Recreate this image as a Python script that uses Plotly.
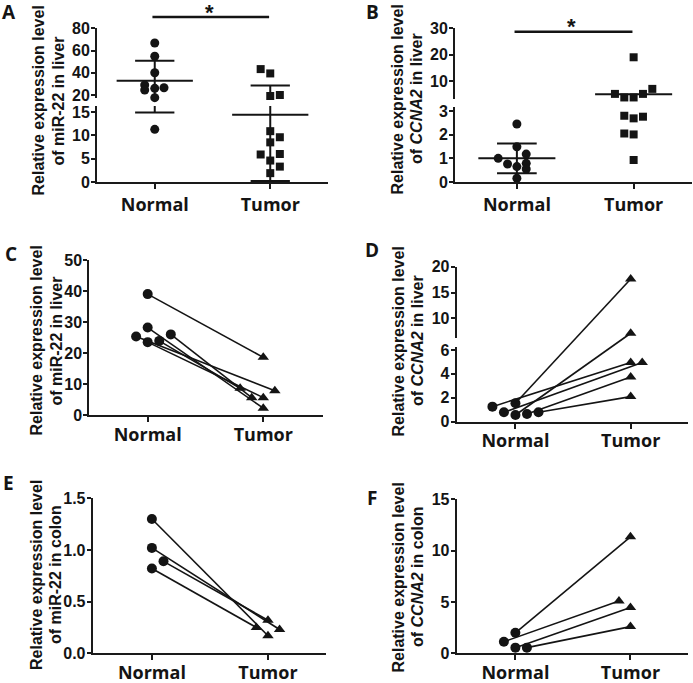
import plotly.graph_objects as go

W, H = 693, 683

categories = ["Normal", "Tumor"]

# ---------------- data ----------------
# Panel A: miR-22 in liver (scatter, broken y axis)
a_normal = [66.8, 54.9, 40.0, 29.0, 24.5, 26.0, 26.5, 17.6, 11.3]
a_tumor = [43.3, 39.4, 19.1, 20.0, 10.9, 9.6, 8.5, 5.9, 6.0, 4.6, 3.3, 1.9]
a_mean = [32.8, 14.4]
a_sd = [17.9, 14.2]
a_lower_ticks = [0, 5, 10, 15]
a_upper_ticks = [20, 40, 60, 80]

# Panel B: CCNA2 in liver (scatter, broken y axis)
b_normal = [2.45, 1.49, 1.18, 1.0, 0.76, 0.65, 0.79, 0.55, 0.16]
b_tumor = [19.0, 5.1, 3.75, 3.75, 5.1, 7.0, 2.8, 2.69, 2.76, 2.05, 2.01, 0.93]
b_mean = [1.0, 5.0]
b_sd = [0.63, None]
b_lower_ticks = [0, 1, 2, 3]
b_upper_ticks = [10, 20, 30]

# Panel C: miR-22 in liver, paired
c_normal = [39.0, 28.2, 25.3, 23.5, 23.9, 26.0]
c_tumor = [18.6, 2.2, 7.8, 5.6, 8.6, 5.6]
c_ticks = [0, 10, 20, 30, 40, 50]

# Panel D: CCNA2 in liver, paired (broken y axis)
d_normal = [1.26, 0.79, 1.55, 0.56, 0.65, 0.79]
d_tumor = [4.96, 4.96, 17.6, 7.1, 3.73, 2.1]
d_lower_ticks = [0, 2, 4, 6]
d_upper_ticks = [10, 15, 20]

# Panel E: miR-22 in colon, paired
e_normal = [1.30, 1.02, 0.89, 0.82]
e_tumor = [0.17, 0.23, 0.32, 0.25]
e_ticks = [0.0, 0.5, 1.0, 1.5]

# Panel F: CCNA2 in colon, paired
f_normal = [2.0, 1.13, 0.55, 0.55]
f_tumor = [11.35, 5.1, 4.45, 2.6]
f_ticks = [0, 5, 10, 15]

# horizontal jitter of the points (style)
a_normal_jit = [0, 0, 0, -0.087, -0.087, 0, 0.08, 0, 0]
a_tumor_jit = [-0.083, 0, 0, 0.083, 0, 0.083, 0, -0.083, 0.083, 0, 0.083, 0]
b_normal_jit = [0, 0, 0.08, -0.16, -0.08, 0, 0.08, 0.08, 0]
b_tumor_jit = [0, -0.16, -0.08, 0, 0.08, 0.16, -0.08, 0, 0.08, -0.08, 0, 0]
c_normal_jit = [0, 0, -0.1, 0, 0.1, 0.2]
c_tumor_jit = [0, 0, 0.1, 0, -0.2, -0.1]
d_normal_jit = [-0.2, -0.1, 0, 0, 0.1, 0.2]
d_tumor_jit = [0, 0.1, 0, 0, 0, 0]
e_normal_jit = [0, 0, 0.1, 0]
e_tumor_jit = [0, 0.1, 0, -0.1]
f_normal_jit = [0, -0.1, 0, 0.1]
f_tumor_jit = [0, -0.1, 0, 0]

# ---------------- style ----------------
INK = "#141414"
AX = "#1a1a1a"
TICK_FONT = dict(family="Liberation Sans", size=16, color=INK, weight="bold")
CAT_FONT = dict(family="Open Sans", size=18, color=INK, weight="bold")
TITLE_FONT = dict(family="Liberation Sans", size=16, color=INK, weight="bold")
LETTER_FONT = dict(family="Open Sans", size=19, color=INK, weight="bold")

MEAN_HW = 0.33
SD_HW = 0.17


def dx(p0, p1):
    return [p0 / W, p1 / W]


def dy(top, bottom):
    return [1 - bottom / H, 1 - top / H]


def yax(domain, rng, ticks, anchor, fmt=None):
    d = dict(domain=domain, range=rng, tickvals=ticks, anchor=anchor, showline=True,
             linecolor=AX, linewidth=2, ticks="outside", ticklen=4, tickwidth=2,
             tickcolor=AX, showgrid=False, zeroline=False, tickfont=TICK_FONT,
             ticklabelstandoff=-2, fixedrange=True, automargin=False)
    if fmt:
        d["tickformat"] = fmt
    return d


def xax(domain, rng, anchor, standoff):
    return dict(domain=domain, range=rng, tickvals=[0, 1], ticktext=categories,
                anchor=anchor, showline=True, linecolor=AX, linewidth=2,
                ticks="outside", ticklen=5, tickwidth=2, tickcolor=AX,
                showgrid=False, zeroline=False, tickfont=CAT_FONT,
                ticklabelstandoff=standoff, fixedrange=True, automargin=False)


# axis geometry (pixels)
A_X = dx(97, 328); A_XR = [-0.5, 1.5]
A_LO = dy(106, 182); A_LOR = [0, 16.3]
A_HI = dy(28.3, 98); A_HIR = [17.3, 80]

B_X = dx(455, 692); B_XR = [-0.53, 1.5]
B_LO = dy(107, 182); B_LOR = [0, 3.17]
B_HI = dy(28.3, 99); B_HIR = [3.16, 30]

C_X = dx(89.3, 322.7); C_XR = [-0.505, 1.514]
C_Y = dy(260, 415); C_YR = [0, 50]

D_X = dx(456.7, 688.3); D_XR = [-0.51, 1.5]
D_LO = dy(347, 421.7); D_LOR = [0, 6.25]
D_HI = dy(266.7, 338); D_HIR = [6.18, 20]

E_X = dx(92.7, 326); E_XR = [-0.51, 1.5]
E_Y = dy(498.3, 653.3); E_YR = [0, 1.5]

F_X = dx(456.7, 688); F_XR = [-0.51, 1.5]
F_Y = dy(499.3, 653.3); F_YR = [0, 15]

# overlay axis for D so paired lines can cross the break
D_OV = [D_LO[0], D_HI[1]]
D_OVR = [0, D_LOR[1] * (D_OV[1] - D_OV[0]) / (D_LO[1] - D_LO[0])]


def d_to_overlay(v):
    if v <= D_LOR[1]:
        p = D_LO[0] + v / D_LOR[1] * (D_LO[1] - D_LO[0])
    else:
        p = D_HI[0] + (v - D_HIR[0]) / (D_HIR[1] - D_HIR[0]) * (D_HI[1] - D_HI[0])
    return (p - D_OV[0]) / (D_OV[1] - D_OV[0]) * D_OVR[1]


fig = go.Figure()

# ---------- helpers ----------

def add_points(vals, jit, center, xa, ya, symbol, size):
    fig.add_trace(go.Scatter(x=[center + j for j in jit], y=vals, xaxis=xa, yaxis=ya,
                             mode="markers", cliponaxis=False,
                             marker=dict(symbol=symbol, size=size, color=INK,
                                         line=dict(width=0)),
                             showlegend=False, hoverinfo="skip"))


def add_broken_points(vals, jit, center, xa, ya_lo, ya_hi, thr, symbol, size):
    lo = [(v, j) for v, j in zip(vals, jit) if v <= thr]
    hi = [(v, j) for v, j in zip(vals, jit) if v > thr]
    if lo:
        add_points([v for v, _ in lo], [j for _, j in lo], center, xa, ya_lo, symbol, size)
    if hi:
        add_points([v for v, _ in hi], [j for _, j in hi], center, xa, ya_hi, symbol, size)


def add_segments(xs, ys, xa, ya, width=2):
    if not xs:
        return
    fig.add_trace(go.Scatter(x=xs, y=ys, xaxis=xa, yaxis=ya, mode="lines",
                             line=dict(color=INK, width=width), showlegend=False,
                             hoverinfo="skip"))


def add_mean_sd(means, sds, xa, ya_lo, ya_hi, lo_range, hi_range):
    seg = {"lo": ([], []), "hi": ([], [])}

    def which(v):
        return "lo" if v <= lo_range[1] else "hi"

    def hseg(c, hw, v):
        xs, ys = seg[which(v)]
        xs += [c - hw, c + hw, None]
        ys += [v, v, None]

    for c, (m, s) in enumerate(zip(means, sds)):
        hseg(c, MEAN_HW, m)
        if s is None:
            continue
        top, bot = m + s, m - s
        hseg(c, SD_HW, top)
        hseg(c, SD_HW, bot)
        # vertical bar, split across the break
        if which(top) == which(bot):
            xs, ys = seg[which(top)]
            xs += [c, c, None]; ys += [bot, top, None]
        else:
            xs, ys = seg["lo"]
            xs += [c, c, None]; ys += [bot, lo_range[1], None]
            xs, ys = seg["hi"]
            xs += [c, c, None]; ys += [hi_range[0], top, None]
    add_segments(*seg["lo"], xa, ya_lo)
    add_segments(*seg["hi"], xa, ya_hi)


def add_pairs(nv, nj, tv, tj, xa, ya, conv=lambda v: v):
    xs, ys = [], []
    for a, ja, b, jb in zip(nv, nj, tv, tj):
        xs += [0 + ja, 1 + jb, None]
        ys += [conv(a), conv(b), None]
    add_segments(xs, ys, xa, ya, width=1.6)


# ---------- Panel A ----------
add_mean_sd(a_mean, a_sd, "x", "y", "y2", A_LOR, A_HIR)
add_broken_points(a_normal, a_normal_jit, 0, "x", "y", "y2", A_LOR[1], "circle", 9)
add_broken_points(a_tumor, a_tumor_jit, 1, "x", "y", "y2", A_LOR[1], "square", 8)

# ---------- Panel B ----------
add_mean_sd(b_mean, b_sd, "x2", "y3", "y4", B_LOR, B_HIR)
add_broken_points(b_normal, b_normal_jit, 0, "x2", "y3", "y4", B_LOR[1], "circle", 9)
add_broken_points(b_tumor, b_tumor_jit, 1, "x2", "y3", "y4", B_LOR[1], "square", 8)

# ---------- Panel C ----------
add_pairs(c_normal, c_normal_jit, c_tumor, c_tumor_jit, "x3", "y5")
add_points(c_normal, c_normal_jit, 0, "x3", "y5", "circle", 10)
add_points(c_tumor, c_tumor_jit, 1, "x3", "y5", "triangle-up", 10)

# ---------- Panel D ----------
add_pairs(d_normal, d_normal_jit, d_tumor, d_tumor_jit, "x4", "y8", conv=d_to_overlay)
add_broken_points(d_normal, d_normal_jit, 0, "x4", "y6", "y7", D_LOR[1], "circle", 10)
add_broken_points(d_tumor, d_tumor_jit, 1, "x4", "y6", "y7", D_LOR[1], "triangle-up", 10)

# ---------- Panel E ----------
add_pairs(e_normal, e_normal_jit, e_tumor, e_tumor_jit, "x5", "y9")
add_points(e_normal, e_normal_jit, 0, "x5", "y9", "circle", 10)
add_points(e_tumor, e_tumor_jit, 1, "x5", "y9", "triangle-up", 10)

# ---------- Panel F ----------
add_pairs(f_normal, f_normal_jit, f_tumor, f_tumor_jit, "x6", "y10")
add_points(f_normal, f_normal_jit, 0, "x6", "y10", "circle", 10)
add_points(f_tumor, f_tumor_jit, 1, "x6", "y10", "triangle-up", 10)

# ---------- axes ----------
fig.update_layout(
    template="none",
    xaxis=xax(A_X, A_XR, "y", 0),
    yaxis=yax(A_LO, A_LOR, a_lower_ticks, "x"),
    yaxis2=yax(A_HI, A_HIR, a_upper_ticks, "x"),
    xaxis2=xax(B_X, B_XR, "y3", 0),
    yaxis3=yax(B_LO, B_LOR, b_lower_ticks, "x2"),
    yaxis4=yax(B_HI, B_HIR, b_upper_ticks, "x2"),
    xaxis3=xax(C_X, C_XR, "y5", -3),
    yaxis5=yax(C_Y, C_YR, c_ticks, "x3"),
    xaxis4=xax(D_X, D_XR, "y6", -3),
    yaxis6=yax(D_LO, D_LOR, d_lower_ticks, "x4"),
    yaxis7=yax(D_HI, D_HIR, d_upper_ticks, "x4"),
    yaxis8=dict(domain=D_OV, range=D_OVR, anchor="x4", visible=False, fixedrange=True),
    xaxis5=xax(E_X, E_XR, "y9", -3),
    yaxis9=yax(E_Y, E_YR, e_ticks, "x5", fmt=".1f"),
    xaxis6=xax(F_X, F_XR, "y10", -3),
    yaxis10=yax(F_Y, F_YR, f_ticks, "x6"),
)

# ---------- annotations ----------
ann = []


def letter(t, px, py):
    ann.append(dict(text=t, x=px / W, y=1 - py / H, xref="paper", yref="paper",
                    showarrow=False, font=LETTER_FONT, xanchor="center", yanchor="middle"))


def ytitle(line1, line2, x1, x2, yc):
    for t, xp in ((line1, x1), (line2, x2)):
        ann.append(dict(text=t, x=xp / W, y=1 - yc / H, xref="paper", yref="paper",
                        showarrow=False, font=TITLE_FONT, textangle=-90,
                        xanchor="center", yanchor="middle"))


letter("A", 9, 12)
letter("B", 373, 12)
letter("C", 11, 254)
letter("D", 372, 250)
letter("E", 8, 483)
letter("F", 372, 498)

ytitle("Relative expression level", "of miR-22 in liver", 37.5, 57.5, 101)
ytitle("Relative expression level", "of <i>CCNA2</i> in liver", 397.5, 417, 99)
ytitle("Relative expression level", "of miR-22 in liver", 35.5, 55.5, 341)
ytitle("Relative expression level", "of <i>CCNA2</i> in liver", 397.5, 417, 341)
ytitle("Relative expression level", "of miR-22 in colon", 36, 55, 575)
ytitle("Relative expression level", "of <i>CCNA2</i> in colon", 397.5, 417, 577)

# significance bars + asterisks
shapes = []
for xa, ypx, star_y in (("x", 17, 12), ("x2", 31.7, 26)):
    shapes.append(dict(type="line", xref=xa, yref="paper", x0=-0.02, x1=0.99,
                       y0=1 - ypx / H, y1=1 - ypx / H, line=dict(color=INK, width=2.6)))
    ann.append(dict(text="*", x=0.47, y=1 - star_y / H, xref=xa, yref="paper",
                    showarrow=False, xanchor="center", yanchor="middle",
                    font=dict(family="Liberation Sans", size=22,
                              color=INK, weight="bold")))

fig.update_layout(
    annotations=ann,
    shapes=shapes,
    width=W, height=H,
    margin=dict(l=0, r=0, t=0, b=0, pad=0),
    paper_bgcolor="white",
    plot_bgcolor="rgba(0,0,0,0)",
    showlegend=False,
)

fig.write_html("out.html", config={"displayModeBar": False},
               post_script="document.body.style.margin='0';document.body.style.overflow='hidden';")
